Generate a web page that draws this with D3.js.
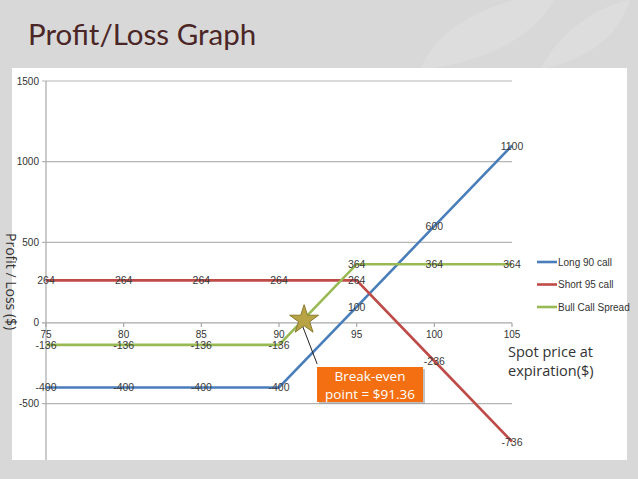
<!DOCTYPE html>
<html><head><meta charset="utf-8">
<script src="https://cdn.jsdelivr.net/npm/d3@7"></script>
<style>
html,body{margin:0;padding:0;background:#d9d9d9;}
svg{display:block;}
</style></head>
<body><svg id="c" width="638" height="479"></svg>
<script>
const prices = [75, 80, 85, 90, 95, 100, 105];
const long90 = [-400, -400, -400, -400, 100, 600, 1100];
const short95 = [264, 264, 264, 264, 264, -236, -736];
const bullSpread = [-136, -136, -136, -136, 364, 364, 364];
const seriesNames = ["Long 90 call", "Short 95 call", "Bull Call Spread"];
const seriesColors = ["#4a7ebb", "#be4b48", "#98b954"];
const yTicks = [1500, 1000, 500, 0, -500];
const breakEven = 91.36;

const svg = d3.select("#c");
// background
svg.append("rect").attr("width", 638).attr("height", 479).attr("fill", "#d8d8d8");
svg.append("path").attr("d", "M420 70 C 440 20, 500 0, 560 -10 C 540 30, 500 60, 420 70Z").attr("fill", "#dddddd");
svg.append("path").attr("d", "M540 70 C 560 30, 600 5, 630 0 C 620 30, 600 55, 540 70Z").attr("fill", "#dddddd");

// title
svg.append("text").attr("x", 28).attr("y", 45).text("Profit/Loss Graph")
  .attr("font-family", "Lato, 'Open Sans', sans-serif").attr("font-size", 29.5).attr("fill", "#4b2626");

// white panel
svg.append("rect").attr("x", 12).attr("y", 68).attr("width", 615).attr("height", 392).attr("fill", "#ffffff");

const x = d3.scaleLinear().domain([75, 105]).range([46, 512]);
const y = d3.scaleLinear().domain([-850, 1500]).range([460, 81]);

const lab = "'Liberation Sans Narrow', 'Arial Narrow', sans-serif";

// gridlines
const grid = svg.append("g");
grid.selectAll("line").data(yTicks).join("line")
  .attr("x1", x(75) - 4).attr("x2", x(105))
  .attr("y1", d => y(d)).attr("y2", d => y(d))
  .attr("stroke", d => d === 0 ? "#a8a8a8" : "#b5b5b5").attr("stroke-width", 1.2);
// y axis line
svg.append("line").attr("x1", x(75)).attr("x2", x(75)).attr("y1", y(1500)).attr("y2", y(-850))
  .attr("stroke", "#a8a8a8").attr("stroke-width", 1.2);
// x ticks
svg.append("g").selectAll("line").data(prices).join("line")
  .attr("x1", d => x(d)).attr("x2", d => x(d)).attr("y1", y(0)).attr("y2", y(0) + 4)
  .attr("stroke", "#a8a8a8").attr("stroke-width", 1.2);
// y tick labels
svg.append("g").selectAll("text").data(yTicks).join("text")
  .attr("x", x(75) - 7).attr("y", d => y(d) + 3.5).attr("text-anchor", "end")
  .attr("font-family", lab).attr("font-size", 10).attr("fill", "#333").text(d => d);
// x tick labels
svg.append("g").selectAll("text").data(prices).join("text")
  .attr("x", d => x(d)).attr("y", y(0) + 15).attr("text-anchor", "middle")
  .attr("font-family", lab).attr("font-size", 10).attr("fill", "#333").text(d => d);

// series
const allSeries = [long90, short95, bullSpread];
const line = d3.line().x((d, i) => x(prices[i])).y(d => y(d));
allSeries.forEach((vals, k) => {
  svg.append("path").datum(vals).attr("d", line).attr("fill", "none")
    .attr("stroke", seriesColors[k]).attr("stroke-width", 2.6);
});
// data labels
allSeries.forEach((vals) => {
  svg.append("g").selectAll("text").data(vals).join("text")
    .attr("x", (d, i) => x(prices[i])).attr("y", d => y(d) + 4).attr("text-anchor", "middle")
    .attr("font-family", lab).attr("font-size", 10.5).attr("fill", "#3a3a3a").text(d => d);
});

// legend
const lg = svg.append("g");
seriesNames.forEach((n, k) => {
  const ly = 262 + k * 22.5;
  lg.append("line").attr("x1", 537).attr("x2", 557).attr("y1", ly).attr("y2", ly)
    .attr("stroke", seriesColors[k]).attr("stroke-width", 2.6);
  lg.append("text").attr("x", 558).attr("y", ly + 3.5).text(n)
    .attr("font-family", lab).attr("font-size", 10).attr("fill", "#333");
});

// axis titles
svg.append("text").attr("transform", "translate(6,233) rotate(90)")
  .attr("font-family", "'Open Sans', sans-serif").attr("font-size", 14).attr("fill", "#333")
  .text("Profit / Loss ($)");
const sp = svg.append("text").attr("font-family", "'Open Sans', sans-serif").attr("font-size", 14.5).attr("fill", "#333");
sp.append("tspan").attr("x", 508).attr("y", 357).text("Spot price at");
sp.append("tspan").attr("x", 508).attr("y", 376).text("expiration($)");

// break-even annotation
const bx = x(breakEven), by = y(0);
svg.append("line").attr("x1", bx + 2).attr("y1", by + 2).attr("x2", bx + 17).attr("y2", by + 41)
  .attr("stroke", "#222").attr("stroke-width", 1);
const star = d3.symbol().type(d3.symbolStar).size(260);
svg.append("path").attr("d", star()).attr("transform", `translate(${bx + 4},${by - 3})`)
  .attr("fill", "#b9a445").attr("stroke", "#8a7a30").attr("stroke-width", 1);
svg.append("rect").attr("x", 319).attr("y", 369).attr("width", 106).attr("height", 35).attr("fill", "#9a9a9a").attr("opacity", 0.6);
svg.append("rect").attr("x", 317).attr("y", 367).attr("width", 106).attr("height", 35).attr("fill", "#f36f12");
const bt = svg.append("text").attr("font-family", "'Open Sans', sans-serif").attr("font-size", 13.5).attr("fill", "#ffffff").attr("text-anchor", "middle");
bt.append("tspan").attr("x", 370).attr("y", 381).text("Break-even");
bt.append("tspan").attr("x", 370).attr("y", 399).text("point = $91.36");
</script></body></html>
